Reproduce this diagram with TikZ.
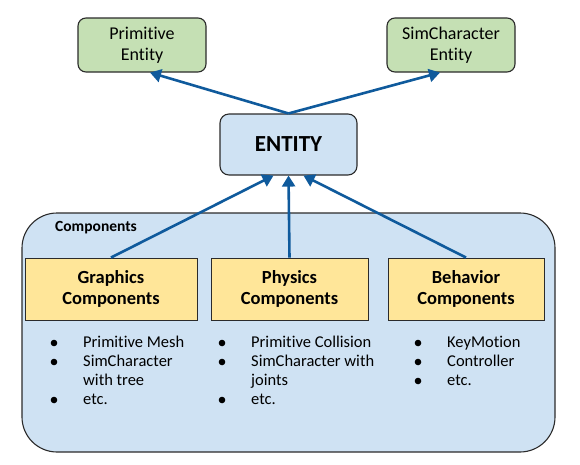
\documentclass[tikz,border=0pt]{standalone}
\usepackage{fontspec}
\setmainfont{Carlito}[Ligatures=NoCommon]
\usetikzlibrary{arrows.meta,calc}
\definecolor{boxgreen}{HTML}{C5E0B4}
\definecolor{boxblue}{HTML}{CFE2F3}
\definecolor{boxyellow}{HTML}{FFE699}
\definecolor{arrowblue}{HTML}{0F5A9C}
\definecolor{edgegray}{HTML}{2B2B2B}
\tikzset{
  x=1pt, y=1pt,
  entbox/.style={draw=edgegray, line width=1.1pt, rounded corners=8pt, fill=boxgreen,
    align=center, inner sep=0pt, font=\fontsize{18}{21}\selectfont},
  centbox/.style={draw=edgegray, line width=1.1pt, rounded corners=9pt, fill=boxblue,
    align=center, inner sep=0pt, font=\fontsize{23}{26}\selectfont\bfseries},
  compbox/.style={draw=edgegray, line width=0.9pt, fill=boxyellow,
    align=center, inner sep=0pt, font=\fontsize{18.5}{21}\selectfont\bfseries},
  conn/.style={draw=arrowblue, line width=2.6pt, -{Triangle[length=11pt,width=13pt]}},
  blist/.style={anchor=north west, inner sep=0pt, font=\fontsize{16.5}{19}\selectfont},
  bul/.style={fill=black}
}
\begin{document}
\begin{tikzpicture}
\useasboundingbox (0,0) rectangle (580,-464);
% container
\node[draw=edgegray, line width=1.1pt, rounded corners=35pt, fill=boxblue,
  minimum width=533pt, minimum height=239pt, inner sep=0pt] (cont) at (288.5,-332.5) {};
\node[anchor=west, inner sep=0pt, font=\fontsize{15.5}{17}\selectfont\bfseries] (clabel) at (55,-228) {Components};
% top entities
\node[entbox, minimum width=128pt, minimum height=54pt] (prim) at (142,-45) {Primitive\\Entity};
\node[entbox, minimum width=128pt, minimum height=54pt] (simc) at (451,-45) {SimCharacter\\Entity};
\node[centbox, minimum width=137pt, minimum height=61pt] (ent) at (288.5,-144.5) {ENTITY};
% component boxes
\node[compbox, minimum width=172pt, minimum height=62pt] (gfx) at (111,-289) {Graphics\\Components};
\node[compbox, minimum width=157pt, minimum height=62pt] (phys) at (289.5,-289) {Physics\\Components};
\node[compbox, minimum width=156pt, minimum height=62pt] (beh) at (466,-289) {Behavior\\Components};
% lists
\node[blist] (lg) at (83,-334) {\begin{tabular}[t]{@{}l@{}}
Primitive Mesh\\
SimCharacter\\
with tree\\
etc.
\end{tabular}};
\node[blist] (lp) at (251,-334) {\begin{tabular}[t]{@{}l@{}}
Primitive Collision\\
SimCharacter with\\
joints\\
etc.
\end{tabular}};
\node[blist] (lb) at (447,-334) {\begin{tabular}[t]{@{}l@{}}
KeyMotion\\
Controller\\
etc.
\end{tabular}};
% bullets
\foreach \y in {0,19,57} \fill[bul] ($(lg.north west)+(-29,-9-\y)$) circle (3.3pt);
\foreach \y in {0,19,57} \fill[bul] ($(lp.north west)+(-29,-9-\y)$) circle (3.3pt);
\foreach \y in {0,19,38} \fill[bul] ($(lb.north west)+(-29,-9-\y)$) circle (3.3pt);
% connectors
\coordinate (etop) at (ent.north);
\draw[conn] (etop) -- ($(prim.south)+(8,0)$);
\draw[conn] (etop) -- ($(simc.south)+(-11,0)$);
\draw[conn] (gfx.north) -- ($(ent.south)+(-15,0)$);
\draw[conn] (phys.north) -- (ent.south);
\draw[conn] (beh.north) -- ($(ent.south)+(15,0)$);
\end{tikzpicture}
\end{document}
